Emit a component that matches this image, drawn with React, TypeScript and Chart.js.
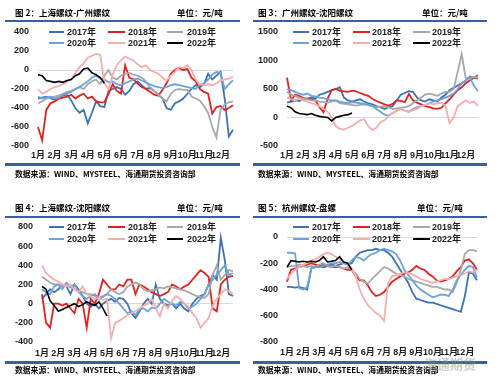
import React, { useEffect, useRef } from 'react';
import { Chart, registerables } from 'chart.js';

Chart.register(...registerables);

const MONTHS = ['1月', '2月', '3月', '4月', '5月', '6月', '7月', '8月', '9月', '10月', '11月', '12月'];
const YEARS = ['2017年', '2018年', '2019年', '2020年', '2021年', '2022年'];
const COLORS = ['#3d72b8', '#e3211e', '#a8a8a8', '#6ba3da', '#f5adae', '#000000'];

// 图 2：上海螺纹-广州螺纹 (weekly, 4 points per month)
const shgz2017 = [-300,-290,-280,-300, -310,-290,-270,-260, -320,-400,-450,-420, -560,-450,-330,-380, -390,-220,-200,-180, -200,-260,-220,-150, -120,-160,-200,-190, -220,-260,-300,-400, -420,-350,-330,-300, -250,-200,-160,-180, -150,-40,-100,-60, -20,-300,-700,-630];
const shgz2018 = [-600,-740,-420,-350, -330,-300,-290,-280, -260,-300,-270,-250, -300,-280,-330,-340, -340,-250,-150,-220, -250,50,-80,-100, -140,-180,-200,-230, -260,-270,-210,-140, -40,0,20,0, 10,-80,-120,-200, -230,-250,-460,-390, -380,-420,-400,-370];
const shgz2019 = [-350,-330,-300,-290, -280,-270,-250,-230, -220,-200,-180,-200, -150,-120,-100,-150, -60,0,-80,-100, -60,-40,-30,-50, -60,-80,-120,-180, -220,-260,-300,-330, -250,-210,-200,-210, -210,-280,-300,-320, -380,-450,-600,-710, -420,-360,-340,-330];
const shgz2020 = [-280,-300,-290,-280, -300,-290,-260,-250, -230,-200,-180,-150, -120,-80,-60,-90, -100,-130,-120,-150, -160,-140,-120,-100, -90,-110,-130,-150, -170,-180,-190,-180, -160,-150,-160,-170, -180,-190,-200,-160, -140,-100,-50,-20, -30,-200,-150,-110];
const shgz2021 = [-200,-250,-230,-200, -180,-170,-150,-120, -100,-30,30,70, 130,150,170,160, -140,-200,-50,50, 100,140,120,100, 60,30,50,0, -20,-40,-80,-110, -60,-20,30,20, 50,0,-100,-150, -160,-150,-160,-140, -110,-100,-90,-70];
const shgz2022 = [-50,-60,-110,-120, -130,-120,-130,-110, -100,-60,-40,10, 20,-30,-50,-80, -140];

// 图 3：广州螺纹-沈阳螺纹
const gzsy2017 = [260,280,300,290, 320,330,350,330, 400,420,450,480, 500,530,350,300, 280,300,320,280, 250,230,200,180, 150,180,200,300, 400,430,460,450, 350,300,280,320, 300,280,350,400, 480,520,560,600, 650,720,700,740];
const gzsy2018 = [700,300,400,380, 340,330,320,300, 180,90,330,480, 500,470,460,450, 470,460,430,400, 380,330,290,260, 230,210,240,300, 290,270,410,300, 260,230,200,180, 160,150,170,250, 320,400,480,530, 600,650,700,680];
const gzsy2019 = [450,400,380,350, 330,320,300,300, 280,270,260,280, 300,250,240,230, 220,210,220,230, 220,200,180,190, 200,180,150,160, 170,180,200,250, 300,350,400,420, 400,380,420,450, 450,500,800,1110, 680,700,710,700];
const gzsy2020 = [500,480,450,420, 400,420,380,370, 350,340,320,300, 300,280,260,250, 270,260,250,240, 220,200,150,100, 50,30,80,120, 150,120,100,150, 180,200,220,250, 280,300,320,350, 380,420,500,600, 650,700,560,460];
const gzsy2021 = [350,320,300,330, 300,280,250,230, 200,150,100,0, -150,-200,-210,-180, -150,-100,-50,-30, -150,-220,-180,-80, -50,30,80,120, 150,120,100,130, 150,200,220,250, 230,250,260,200, -100,0,200,250, 300,260,280,200];
const gzsy2022 = [200,170,100,70, 60,50,70,40, 20,10,0,-60, 0,20,40,50, 80];

// 图 4：上海螺纹-沈阳螺纹
const shsy2017 = [50,100,150,120, 150,200,180,100, 200,150,80,0, -30,0,-50,0, 30,50,20,60, 50,0,-100,-150, -80,0,50,0, 200,50,0,-20, 0,-50,0,-50, -80,0,50,80, 100,200,300,250, 690,450,100,80];
const shsy2018 = [100,-200,-250,0, 0,-20,0,-50, -100,50,0,-250, 50,0,100,250, 200,150,150,200, 180,250,250,100, 200,180,150,120, 100,80,100,120, 200,180,150,180, 200,250,300,350, 320,280,-50,-80, 200,250,280,290];
const shsy2019 = [280,250,220,200, 200,180,190,170, 150,130,120,100, 100,80,60,80, 100,150,120,100, 120,180,200,220, 200,150,130,140, 150,170,160,180, 170,160,150,140, 120,100,80,70, 60,100,300,400, 250,300,350,340];
const shsy2020 = [150,120,100,180, 200,150,220,180, 200,120,80,50, 80,100,50,70, 100,80,50,0, -50,-100,-80,-120, -60,-50,-80,-40, -50,0,50,20, 0,-20,20,0, -50,-30,0,50, 100,200,250,300, 350,400,300,320];
const shsy2021 = [400,320,280,250, 230,200,180,200, 150,120,180,100, 80,50,60,40, 50,-360,-200,-180, -150,-120,-100,-80, -50,-20,0,50, -50,-130,0,-50, 30,80,50,0, -30,-100,-150,-250, -200,-150,-20,50, 100,150,130,100];
const shsy2022 = [180,150,30,-20, -80,-60,-40,-20, 0,-30,-10,20, 0,-20,20,-50, -130];

// 图 5：杭州螺纹-盘螺
const hzpl2017 = [-380,-380,-385,-380, -390,-400,-240,-230, -220,-210,-220,-210, -220,-210,-200,-210, -200,-150,-120,-110, -100,-100,-90,-100, -100,-120,-150,-200, -250,-300,-350,-420, -470,-480,-490,-500, -500,-510,-520,-530, -540,-550,-560,-570, -450,-270,-280,-330];
const hzpl2018 = [-340,-250,-240,-230, -220,-210,-200,-210, -220,-230,-220,-230, -230,-230,-240,-250, -250,-300,-330,-330, -370,-420,-450,-440, -420,-380,-340,-320, -300,-280,-270,-250, -220,-240,-250,-280, -300,-330,-340,-330, -320,-300,-260,-230, -180,-170,-200,-250];
const hzpl2019 = [-230,-220,-220,-210, -220,-230,-220,-230, -210,-200,-220,-230, -220,-230,-240,-230, -250,-280,-320,-340, -355,-320,-290,-260, -230,-240,-260,-280, -290,-300,-320,-330, -340,-350,-360,-370, -380,-380,-390,-400, -400,-420,-350,-250, -130,-100,-100,-110];
const hzpl2020 = [-120,-120,-125,-390, -400,-380,-240,-230, -230,-220,-210,-200, -200,-190,-200,-210, -180,-150,-160,-180, -150,-130,-120,-100, -90,-100,-110,-130, -180,-250,-290,-330, -370,-400,-420,-440, -460,-450,-440,-440, -450,-400,-330,-290, -250,-220,-230,-310];
const hzpl2021 = [-320,-280,-250,-230, -210,-200,-180,-170, -150,-130,-120,-130, -150,-170,-190,-200, -240,-300,-400,-470, -520,-550,-580,-600, -640,-350,-300,-290, -280,-270,-275,-285, -300,-320,-330,-340, -350,-340,-330,-320, -320,-310,-300,-290, -280,-260,-270,-250];
const hzpl2022 = [-230,-180,-185,-190, -185,-190,-185,-190, -180,-150,-190,-185, -180,-150,-190,-200, -250];

const X_LABELS = MONTHS.flatMap((m) => [m, '', '', '']);

const SOURCE = '数据来源：WIND、MYSTEEL、海通期货投资咨询部';
const UNIT = '单位：元/吨';
const LINE_COLOR = '#3b5f9d';
const TEXT_COLOR = '#1e1e1e';
const NUM_FONT = "'Liberation Sans', 'Noto Sans CJK SC', sans-serif";
const CJK_FONT = "'Noto Sans CJK SC', 'Liberation Sans', sans-serif";

type PanelCfg = {
  ox: number; oy: number;
  title: string; titleX: number; unitX: number;
  lineX1: number; lineX2: number;
  titleY: number; lineY: number; bottomY: number; sourceY: number;
  plotLeft: number; plotRight: number; plotTop: number; plotBottom: number;
  xPad: number;
  yMin: number; yMax: number; yStep: number;
  legendRows: number[]; legendCols: { lx: number; lw: number; tx: number }[];
  series: number[][];
};

const LEFT_COLS = [{ lx: 49, lw: 15, tx: 67 }, { lx: 108, lw: 17, tx: 128 }, { lx: 167, lw: 16, tx: 187 }];
const RIGHT_COLS = [{ lx: 43, lw: 16, tx: 62 }, { lx: 103, lw: 17, tx: 122 }, { lx: 163, lw: 17, tx: 182 }];

const PANELS: PanelCfg[] = [
  {
    ox: 0, oy: 0, title: '图 2：上海螺纹-广州螺纹', titleX: 15, unitX: 177, lineX1: 5, lineX2: 240,
    titleY: 12, lineY: 20, bottomY: 163, sourceY: 174,
    plotLeft: 38, plotRight: 233, plotTop: 32, plotBottom: 146, xPad: 4,
    yMin: -800, yMax: 400, yStep: 200, legendRows: [32, 42.5], legendCols: LEFT_COLS,
    series: [shgz2017, shgz2018, shgz2019, shgz2020, shgz2021, shgz2022],
  },
  {
    ox: 250, oy: 0, title: '图 3：广州螺纹-沈阳螺纹', titleX: 8, unitX: 172, lineX1: 3, lineX2: 237,
    titleY: 12, lineY: 20, bottomY: 163, sourceY: 174,
    plotLeft: 37, plotRight: 228, plotTop: 32, plotBottom: 146, xPad: 4,
    yMin: -500, yMax: 1500, yStep: 500, legendRows: [32, 42.5], legendCols: RIGHT_COLS,
    series: [gzsy2017, gzsy2018, gzsy2019, gzsy2020, gzsy2021, gzsy2022],
  },
  {
    ox: 0, oy: 196, title: '图 4：上海螺纹-沈阳螺纹', titleX: 15, unitX: 177, lineX1: 5, lineX2: 240,
    titleY: 11, lineY: 20, bottomY: 165, sourceY: 174,
    plotLeft: 42, plotRight: 233, plotTop: 31, plotBottom: 146, xPad: 6,
    yMin: -400, yMax: 800, yStep: 200, legendRows: [31, 42.5], legendCols: LEFT_COLS,
    series: [shsy2017, shsy2018, shsy2019, shsy2020, shsy2021, shsy2022],
  },
  {
    ox: 250, oy: 196, title: '图 5：杭州螺纹-盘螺', titleX: 8, unitX: 167, lineX1: 3, lineX2: 237,
    titleY: 11, lineY: 20, bottomY: 165, sourceY: 174,
    plotLeft: 37, plotRight: 227, plotTop: 41, plotBottom: 146, xPad: 5,
    yMin: -800, yMax: 0, yStep: 200, legendRows: [31, 43], legendCols: RIGHT_COLS,
    series: [hzpl2017, hzpl2018, hzpl2019, hzpl2020, hzpl2021, hzpl2022],
  },
];

const W = 250;
const H = 190;
const X_SCALE_H = 20;

function Panel({ cfg }: { cfg: PanelCfg }) {
  const ref = useRef<HTMLCanvasElement>(null);
  useEffect(() => {
    const canvas = ref.current;
    if (!canvas) return;
    const chart = new Chart(canvas, {
      type: 'line',
      data: {
        labels: X_LABELS,
        datasets: cfg.series.map((s, i) => ({
          label: YEARS[i],
          data: s,
          borderColor: COLORS[i],
          backgroundColor: COLORS[i],
          borderWidth: i === 5 ? 1.6 : 1.8,
          pointRadius: 0,
          tension: 0,
          fill: false,
          order: 5 - i,
        })),
      },
      options: {
        responsive: false,
        maintainAspectRatio: false,
        animation: false,
        devicePixelRatio: 1,
        layout: {
          padding: { left: 0, right: W - cfg.plotRight, top: cfg.plotTop, bottom: H - cfg.plotBottom - X_SCALE_H },
        },
        plugins: { legend: { display: false }, tooltip: { enabled: false } },
        scales: {
          x: {
            type: 'category',
            offset: false,
            grid: { display: false, drawTicks: false },
            border: { display: false },
            ticks: {
              autoSkip: false, maxRotation: 0, minRotation: 0, padding: cfg.xPad,
              color: TEXT_COLOR, font: { family: NUM_FONT, size: 9, weight: 'bold' },
            },
            afterFit: (s: any) => { s.height = X_SCALE_H; },
          },
          y: {
            min: cfg.yMin, max: cfg.yMax,
            grid: {
              drawTicks: false,
              lineWidth: 1,
              color: (c: any) => (c.tick && c.tick.value === 0 ? '#d9d9d9' : 'rgba(0,0,0,0)'),
            },
            border: { display: false },
            ticks: {
              stepSize: cfg.yStep, padding: 9,
              color: TEXT_COLOR, font: { family: NUM_FONT, size: 9, weight: 'bold' },
              callback: (v: any) => String(v),
            },
            afterFit: (s: any) => { s.width = cfg.plotLeft; },
          },
        },
      } as any,
    });
    return () => chart.destroy();
  }, [cfg]);

  const abs = { position: 'absolute' as const };
  return (
    <div style={{ ...abs, left: cfg.ox, top: cfg.oy, width: W, height: H }}>
      <canvas ref={ref} width={W} height={H} style={{ ...abs, left: 0, top: 0, width: W, height: H, display: 'block' }} />
      <div style={{ ...abs, left: cfg.titleX, top: cfg.titleY - 6, height: 12, lineHeight: '12px', fontSize: 8.5, fontWeight: 'bold', fontFamily: CJK_FONT, color: '#000', whiteSpace: 'nowrap' }}>{cfg.title}</div>
      <div style={{ ...abs, left: cfg.unitX, top: cfg.titleY - 6, height: 12, lineHeight: '12px', fontSize: 8.5, fontWeight: 'bold', fontFamily: CJK_FONT, color: '#000', whiteSpace: 'nowrap' }}>{UNIT}</div>
      <div style={{ ...abs, left: cfg.lineX1, top: cfg.lineY, width: cfg.lineX2 - cfg.lineX1, height: 2, background: LINE_COLOR }} />
      <div style={{ ...abs, left: cfg.lineX1, top: cfg.bottomY, width: cfg.lineX2 - cfg.lineX1, height: 3, background: LINE_COLOR }} />
      <div style={{ ...abs, left: cfg.titleX, top: cfg.sourceY - 5, height: 10, lineHeight: '10px', fontSize: 7.8, fontWeight: 'bold', fontFamily: CJK_FONT, color: '#000', whiteSpace: 'nowrap' }}>{SOURCE}</div>
      {YEARS.map((y, i) => {
        const row = cfg.legendRows[Math.floor(i / 3)];
        const col = cfg.legendCols[i % 3];
        return (
          <React.Fragment key={y}>
            <div style={{ ...abs, left: col.lx, top: row - 1, width: col.lw, height: 2, background: COLORS[i] }} />
            <div style={{ ...abs, left: col.tx, top: row - 6, height: 12, lineHeight: '12px', fontSize: 9, fontWeight: 'bold', fontFamily: NUM_FONT, color: TEXT_COLOR, whiteSpace: 'nowrap' }}>{y}</div>
          </React.Fragment>
        );
      })}
    </div>
  );
}

export default function App() {
  return (
    <div style={{ position: 'fixed', left: 0, top: 0, width: 500, height: 386, background: '#fff', overflow: 'hidden' }}>
      {PANELS.map((p) => <Panel key={p.title} cfg={p} />)}
      <div style={{ position: 'absolute', left: 424, top: 354, fontSize: 13, fontFamily: CJK_FONT, fontWeight: 'bold', color: 'rgba(140,140,140,0.45)', whiteSpace: 'nowrap' }}>海通期货</div>
    </div>
  );
}
